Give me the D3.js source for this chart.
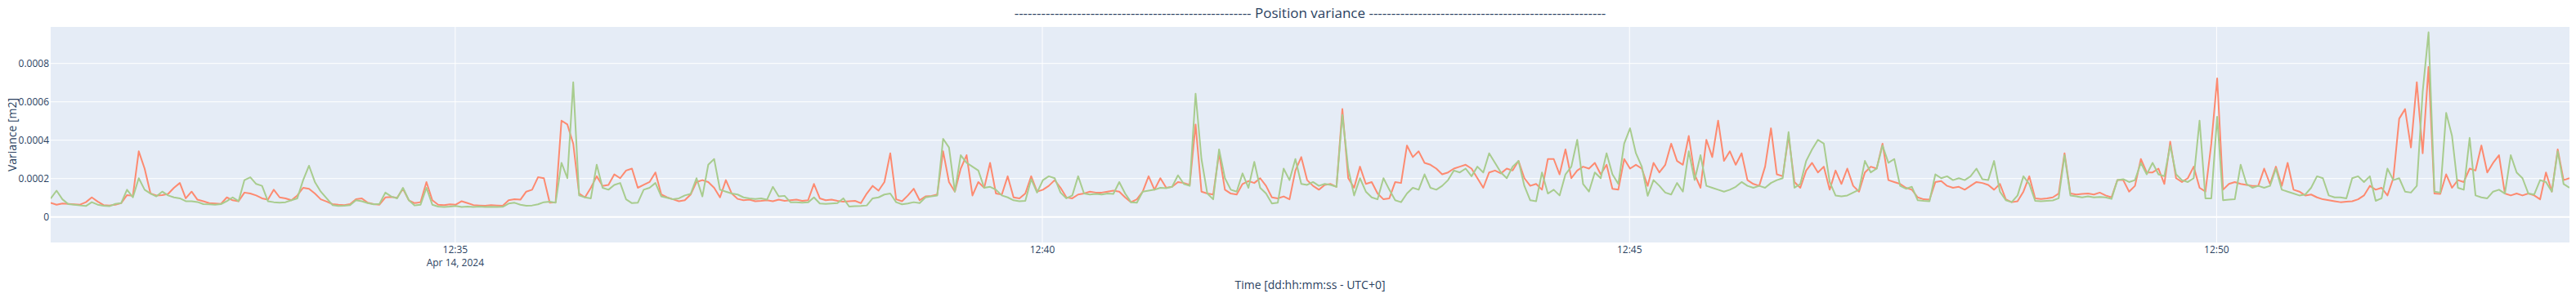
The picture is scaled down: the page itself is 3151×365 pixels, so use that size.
<!DOCTYPE html>
<html><head><meta charset="utf-8">
<script src="https://cdn.jsdelivr.net/npm/d3@7"></script>
<style>
html,body{margin:0;padding:0;background:#fff;}
svg{display:block;font-family:"Open Sans",verdana,arial,sans-serif;}
</style></head><body>
<svg id="chart" width="3151" height="365"></svg>
<script>
// ---------- data ----------
const titleText = "Position variance";
const titleDashCount = 53;
const xAxisTitle = "Time [dd:hh:mm:ss - UTC+0]";
const yAxisTitle = "Variance [m2]";
const startTime = "2024-04-14T12:31:33.500Z";
const stepSeconds = 3;
const valueUnit = 1e-6; // values below are in 1e-6 m2

const redValues = [
 72,62,68,66,64,62,75,100,78,60, 58,62,70,112,108,340,250,120,110,112,
 118,150,175,95,130,88,80,70,68,66, 100,85,80,125,120,110,95,88,140,100,
 95,85,110,150,145,120,90,78,65,62, 60,65,90,95,72,65,62,100,102,98,
 145,85,70,75,180,85,62,60,64,62, 80,
 70,60,58,56,60,58,56,85,90,88, 130,140,205,200,72,75,500,480,380,120,
 100,150,210,160,165,220,200,240,250,150, 165,180,230,115,100,90,80,85,115,180,
 190,180,150,100,190,120,92,85,88,80, 82,85,80,88,82,85,88,82,85,170,
 95,85,88,82,78,80,82,70,120,160, 135,180,
 330,90,80,110,145,85,105,108,115,340, 180,130,250,320,110,180,150,280,120,115,
 210,100,95,120,210,130,140,160,190,150, 100,95,115,120,130,125,125,130,135,130,
 100,75,90,130,210,140,200,150,155,180, 175,165,480,130,120,115,330,140,120,115,
 170,185,175,200,160,100,95,105,90,240, 310,190,
 160,140,165,170,155,560,200,150,260,170, 180,120,90,95,180,175,370,310,340,280,
 270,250,220,230,250,260,270,250,200,150, 230,240,225,250,240,290,200,160,170,140,
 300,300,220,350,200,240,260,250,280,220, 270,145,140,300,250,270,250,160,280,230,
 270,380,290,270,420,220,150,400,310,500, 290,
 340,270,330,190,170,160,260,460,220,210, 420,180,150,240,280,230,260,140,240,170,
 250,160,130,230,260,250,380,190,180,170, 150,140,100,90,88,180,185,160,150,155,
 140,160,180,175,165,140,170,90,75,80, 130,210,95,92,95,100,120,330,120,115,
 118,120,115,125,110,100,190,190,130,160, 300,230,
 230,250,170,390,200,180,200,260,150,130, 380,720,140,170,180,170,165,160,160,250,
 170,260,160,280,140,130,110,115,100,90, 85,80,75,78,80,90,110,160,140,150,
 110,200,510,560,360,700,330,780,120,118, 220,150,190,180,250,240,370,230,280,320,
 120,110,120,110,120,110,90,230,130,350, 190,200
];

const greenValues = [
 94,135,90,65,62,58,55,75,62,56, 54,66,70,140,100,200,140,120,105,130,
 110,100,95,80,80,76,65,64,62,65, 80,100,80,190,205,170,160,80,75,72,
 75,85,95,190,265,180,130,95,60,55, 56,60,85,80,70,64,66,125,105,95,
 150,85,58,62,150,62,52,50,52,55, 50,
 52,50,52,50,51,50,51,68,72,62, 56,58,64,75,78,72,280,200,700,110,
 100,95,270,150,140,165,175,90,70,72, 140,150,175,105,98,90,95,110,118,200,
 105,270,300,140,130,120,115,100,95,92, 95,88,155,105,108,75,74,72,74,100,
 68,66,68,70,95,52,54,55,58,95, 100,115,
 120,75,64,68,75,70,100,105,110,405, 360,130,320,280,260,240,150,155,140,110,
 100,85,80,82,195,125,190,210,200,125, 95,110,210,120,115,118,115,120,118,180,
 120,75,72,130,135,140,150,148,155,215, 170,160,640,300,120,90,350,200,140,130,
 225,150,285,150,120,68,72,250,190,300, 170,165,
 180,160,170,165,155,530,250,110,200,130, 100,90,200,140,85,75,120,150,140,220,
 150,140,160,190,240,230,250,210,260,230, 330,280,230,200,260,290,160,85,80,230,
 120,140,110,220,260,400,170,130,230,200, 330,220,170,380,460,330,260,108,190,160,
 125,115,175,130,340,190,320,160,150,140, 130,
 140,155,180,160,150,160,150,175,190,200, 440,150,170,290,350,400,380,180,110,105,
 110,125,140,290,230,250,370,280,300,160, 145,155,85,82,80,220,200,210,190,200,
 190,210,250,195,190,290,130,85,75,110, 210,170,82,80,82,84,95,320,110,105,
 100,105,100,102,100,92,190,195,180,190, 280,220,
 280,220,210,370,220,190,180,200,500,95, 95,520,85,88,90,270,170,150,160,150,
 160,250,140,130,120,110,115,150,210,200, 110,100,100,95,200,210,180,210,82,95,
 250,190,200,130,125,160,650,960,130,125, 540,420,150,140,410,110,100,95,130,140,
 120,320,230,200,120,115,190,180,130,340, 170,150
];

const yRange = [-0.000135, 0.000988];
const yTickValues = [0, 0.0002, 0.0004, 0.0006, 0.0008];
const yTickLabels = ["0", "0.0002", "0.0004", "0.0006", "0.0008"];
const xTickTimes = ["2024-04-14T12:35:00Z", "2024-04-14T12:40:00Z", "2024-04-14T12:45:00Z", "2024-04-14T12:50:00Z"];
const xTickLabels = ["12:35", "12:40", "12:45", "12:50"];
const xTickDate = "Apr 14, 2024";

// ---------- layout ----------
const W = 3151, H = 365;
const margin = {left: 62, right: 8, top: 33, bottom: 68};
const plotW = W - margin.left - margin.right;
const plotH = H - margin.top - margin.bottom;
const textColor = "#2a3f5f";
const bgColor = "#E5ECF6";
const redColor = "#fd8a70";
const greenColor = "#a8cc8e";

const t0 = new Date(startTime).getTime();
const n = Math.max(redValues.length, greenValues.length);
const times = d3.range(n).map(i => new Date(t0 + i * stepSeconds * 1000));

const svg = d3.select("#chart");
const g = svg.append("g").attr("transform", `translate(${margin.left},${margin.top})`);

const x = d3.scaleUtc().domain([times[0], times[n - 1]]).range([0, plotW]);
const y = d3.scaleLinear().domain(yRange).range([plotH, 0]);

g.append("rect").attr("width", plotW).attr("height", plotH).attr("fill", bgColor);

// x grid + ticks
const xAxis = d3.axisBottom(x)
  .tickValues(xTickTimes.map(d => new Date(d)))
  .tickFormat((d, i) => xTickLabels[i])
  .tickSizeInner(-plotH).tickSizeOuter(0).tickPadding(4.5);
const xg = g.append("g").attr("transform", `translate(0,${plotH})`).call(xAxis);
xg.select(".domain").remove();
xg.selectAll(".tick line").attr("stroke", "#fff").attr("stroke-width", 1);
xg.selectAll(".tick text").attr("fill", textColor).attr("font-size", 12)
  .attr("font-family", '"Open Sans", verdana, arial, sans-serif');
xg.select(".tick text").append("tspan").attr("x", 0).attr("dy", "1.33em").text(xTickDate);

// y grid + ticks
const yAxis = d3.axisLeft(y)
  .tickValues(yTickValues)
  .tickFormat((d, i) => yTickLabels[i])
  .tickSizeInner(-plotW).tickSizeOuter(0).tickPadding(2);
const yg = g.append("g").call(yAxis);
yg.select(".domain").remove();
yg.selectAll(".tick line").attr("stroke", "#fff").attr("stroke-width", d => d === 0 ? 2 : 1);
yg.selectAll(".tick text").attr("fill", textColor).attr("font-size", 12)
  .attr("font-family", '"Open Sans", verdana, arial, sans-serif');

// clip
svg.append("defs").append("clipPath").attr("id", "clip")
  .append("rect").attr("width", plotW).attr("height", plotH);

const line = d3.line()
  .x((d, i) => x(times[i]))
  .y(d => y(d * valueUnit));

const lines = g.append("g").attr("clip-path", "url(#clip)");
lines.append("path").datum(redValues).attr("d", line)
  .attr("fill", "none").attr("stroke", redColor).attr("stroke-width", 2).attr("stroke-linejoin", "round");
lines.append("path").datum(greenValues).attr("d", line)
  .attr("fill", "none").attr("stroke", greenColor).attr("stroke-width", 2).attr("stroke-linejoin", "round");

// titles
const dashes = "-".repeat(titleDashCount);
svg.append("text")
  .attr("x", margin.left + plotW / 2).attr("y", 21.5)
  .attr("text-anchor", "middle").attr("fill", textColor).attr("font-size", 17)
  .text(`${dashes} ${titleText} ${dashes}`);

svg.append("text")
  .attr("x", margin.left + plotW / 2).attr("y", 354)
  .attr("text-anchor", "middle").attr("fill", textColor).attr("font-size", 14)
  .text(xAxisTitle);

svg.append("text")
  .attr("transform", `translate(20,${margin.top + plotH / 2}) rotate(-90)`)
  .attr("text-anchor", "middle").attr("fill", textColor).attr("font-size", 14)
  .text(yAxisTitle);
</script>
</body></html>
